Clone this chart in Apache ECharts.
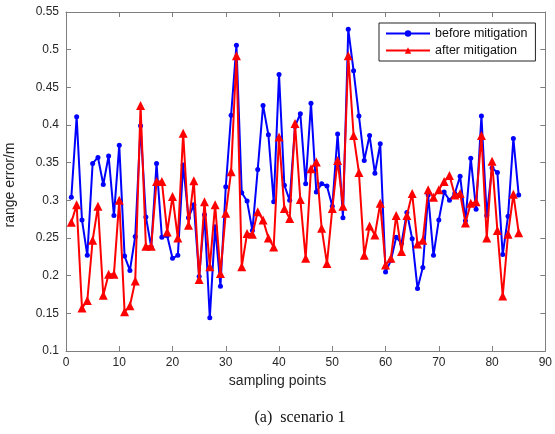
<!DOCTYPE html>
<html>
<head>
<meta charset="utf-8">
<script src="https://cdn.jsdelivr.net/npm/echarts@6/dist/echarts.min.js"></script>
<style>
  html, body { margin: 0; padding: 0; background: #fff; }
  #chart { width: 555px; height: 434px; }
</style>
</head>
<body>
<div id="chart"></div>
<script>
// range error at each sampling point (index 1..85)
const beforeMitigation = [
  0.304, 0.411, 0.274, 0.227, 0.349, 0.357, 0.321, 0.359, 0.280, 0.373,
  0.226, 0.207, 0.252, 0.399, 0.278, 0.238, 0.349, 0.251, 0.253, 0.223,
  0.227, 0.347, 0.277, 0.294, 0.199, 0.281, 0.144, 0.265, 0.186, 0.318,
  0.413, 0.506, 0.310, 0.299, 0.260, 0.341, 0.426, 0.387, 0.298, 0.467,
  0.320, 0.300, 0.398, 0.415, 0.322, 0.429, 0.311, 0.322, 0.319, 0.292,
  0.388, 0.277, 0.527, 0.472, 0.412, 0.353, 0.386, 0.336, 0.375, 0.205,
  0.220, 0.251, 0.243, 0.284, 0.249, 0.183, 0.211, 0.307, 0.227, 0.274,
  0.311, 0.300, 0.309, 0.332, 0.273, 0.356, 0.288, 0.412, 0.280, 0.343,
  0.337, 0.228, 0.279, 0.382, 0.307
];
const afterMitigation = [
  0.271, 0.294, 0.157, 0.167, 0.247, 0.292, 0.174, 0.202, 0.202, 0.300,
  0.152, 0.160, 0.193, 0.426, 0.239, 0.239, 0.325, 0.325, 0.258, 0.305,
  0.250, 0.389, 0.267, 0.326, 0.195, 0.298, 0.212, 0.294, 0.203, 0.283,
  0.338, 0.492, 0.212, 0.256, 0.255, 0.285, 0.274, 0.250, 0.238, 0.384,
  0.289, 0.276, 0.402, 0.301, 0.223, 0.342, 0.351, 0.263, 0.216, 0.289,
  0.353, 0.292, 0.492, 0.386, 0.337, 0.227, 0.266, 0.254, 0.296, 0.214,
  0.223, 0.280, 0.232, 0.280, 0.309, 0.242, 0.247, 0.314, 0.304, 0.314,
  0.325, 0.333, 0.307, 0.309, 0.270, 0.296, 0.298, 0.386, 0.250, 0.352,
  0.260, 0.173, 0.255, 0.308, 0.257
];
const seriesNames = ['before mitigation', 'after mitigation'];
const xTitle = 'sampling points';
const yTitle = 'range error/m';
const caption = '(a)  scenario 1';

const toPairs = vals => vals.map((v, i) => [i + 1, v]);

const axisGray = '#7f7f7f';
const labelColor = '#262626';
const sans = '"Liberation Sans", Arial, Helvetica, sans-serif';

function frameAxis(extra) {
  return Object.assign({
    type: 'value',
    axisLine: { show: true, onZero: false, lineStyle: { color: axisGray, width: 1 } },
    axisTick: { show: true, inside: true, length: 5, lineStyle: { color: axisGray } },
    splitLine: { show: false },
    axisLabel: { color: labelColor, fontFamily: sans, fontSize: 12 }
  }, extra);
}

const chart = echarts.init(document.getElementById('chart'), null, { renderer: 'canvas' });
chart.setOption({
  backgroundColor: '#fff',
  animation: false,
  grid: { left: 66, right: 9, top: 12, bottom: 83, containLabel: false },
  xAxis: [
    frameAxis({ position: 'bottom', min: 0, max: 90, interval: 10,
      axisLabel: { color: labelColor, fontFamily: sans, fontSize: 12, margin: 6 } }),
    frameAxis({ position: 'top', min: 0, max: 90, interval: 10, axisLabel: { show: false } })
  ],
  yAxis: [
    frameAxis({ position: 'left', min: 0.1, max: 0.55, interval: 0.05,
      axisLabel: { color: labelColor, fontFamily: sans, fontSize: 12, margin: 7 } }),
    frameAxis({ position: 'right', min: 0.1, max: 0.55, interval: 0.05, axisLabel: { show: false } })
  ],
  legend: {
    left: 379, top: 23,
    orient: 'vertical',
    backgroundColor: '#fff',
    borderColor: '#222',
    borderWidth: 1,
    borderRadius: 0,
    padding: [4, 8, 4, 6],
    itemWidth: 44,
    itemHeight: 8,
    itemGap: 4,
    textStyle: { color: '#111', fontFamily: sans, fontSize: 12.5 },
    data: seriesNames
  },
  series: [
    {
      name: seriesNames[0],
      type: 'line',
      data: toPairs(beforeMitigation),
      xAxisIndex: 0, yAxisIndex: 0,
      symbol: 'circle', symbolSize: 5,
      lineStyle: { color: '#0000ff', width: 2 },
      itemStyle: { color: '#0000ff' },
      z: 2
    },
    {
      name: seriesNames[1],
      type: 'line',
      data: toPairs(afterMitigation),
      xAxisIndex: 0, yAxisIndex: 0,
      symbol: 'triangle', symbolSize: 9,
      lineStyle: { color: '#ff0000', width: 2 },
      itemStyle: { color: '#ff0000' },
      z: 3
    }
  ],
  graphic: [
    { type: 'text', left: 'center', top: 374, style: { text: xTitle, font: '14px ' + sans, fill: labelColor }, x: 25 },
    { type: 'text', x: 10, y: 185, rotation: Math.PI / 2,
      style: { text: yTitle, font: '14px ' + sans, fill: labelColor, align: 'center', verticalAlign: 'middle' } },
    { type: 'text', x: 300, y: 418,
      style: { text: caption, font: '16px "Liberation Serif", "Times New Roman", serif', fill: '#111', align: 'center', verticalAlign: 'middle' } }
  ]
});
</script>
</body>
</html>
